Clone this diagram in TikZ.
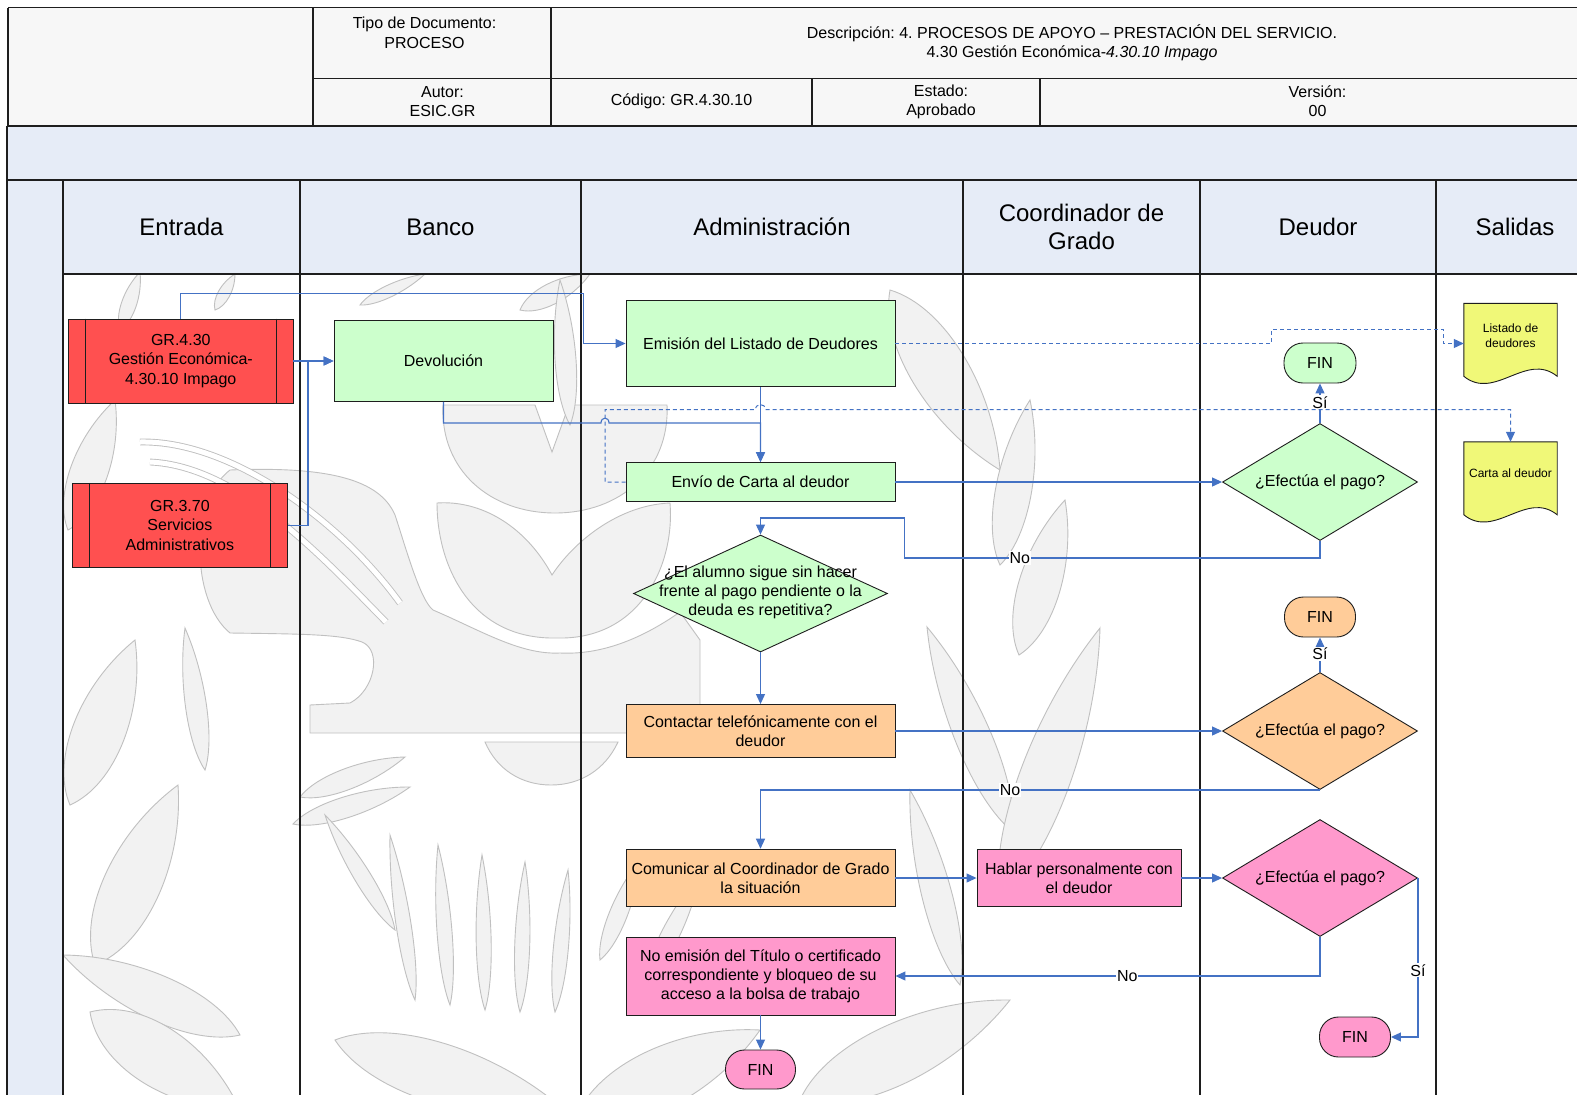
\documentclass[tikz,border=0pt]{standalone}
\usepackage{fontspec}
\setmainfont{Liberation Sans}
\usetikzlibrary{arrows.meta,calc,shapes.geometric}

\definecolor{hdrfill}{RGB}{247,247,247}
\definecolor{lanefill}{RGB}{230,236,247}
\definecolor{redbox}{RGB}{255,80,80}
\definecolor{greenbox}{RGB}{204,255,204}
\definecolor{orangebox}{RGB}{255,204,153}
\definecolor{pinkbox}{RGB}{255,153,204}
\definecolor{docyellow}{RGB}{240,248,120}
\definecolor{flowblue}{RGB}{68,114,196}
\definecolor{wmfill}{RGB}{242,242,242}
\definecolor{wmline}{RGB}{192,192,192}
\definecolor{frame}{RGB}{30,30,30}

% background emblem leaf: base, tip, half-width
\newcommand\wleaf[3]{\filldraw[wm] (#1) .. controls ($(#1)!0.2!(#2)!#3pt!90:(#2)$) and ($(#1)!0.65!(#2)!#3pt!90:(#2)$) .. (#2) .. controls ($(#1)!0.65!(#2)!#3pt!-90:(#2)$) and ($(#1)!0.2!(#2)!#3pt!-90:(#2)$) .. cycle;}

% document symbol with a wavy lower edge, drawn around a named node
\newcommand\wavedoc[1]{\filldraw[draw=frame, line width=0.9pt, fill=docyellow] (#1.north west) -- (#1.north east) -- ($(#1.north east)+(0,73)$) .. controls ($(#1.north east)+(-31,48)$) and ($(#1.north west)+(31,98)$) .. ($(#1.north west)+(0,73)$) -- cycle;}

\begin{document}
\frenchspacing
\begin{tikzpicture}[x=1pt,y=-1pt,
  body/.style={font=\fontsize{16}{19.2}\selectfont},
  hdrtext/.style={body, align=center, inner sep=0pt},
  lanetitle/.style={font=\fontsize{24}{28.8}\selectfont, align=center, inner sep=0pt},
  procbox/.style={draw=frame, line width=0.9pt, body, align=center, inner sep=0pt},
  subproc/.style={procbox, fill=redbox},
  greenproc/.style={procbox, fill=greenbox},
  orangeproc/.style={procbox, fill=orangebox},
  pinkproc/.style={procbox, fill=pinkbox},
  decision/.style={draw=frame, line width=0.9pt, shape=diamond, inner sep=0pt, minimum width=195pt, minimum height=117pt},
  dectext/.style={body, align=center, inner sep=0pt},
  terminal/.style={draw=frame, line width=0.9pt, rounded corners=19pt, body, inner sep=0pt, minimum width=71pt, minimum height=40pt},
  flow/.style={draw=flowblue, line width=1.1pt, -{Triangle[length=10pt,width=9pt]}},
  dataflow/.style={flow, line width=1pt, dash pattern=on 4pt off 3pt},
  lbl/.style={body, fill=white, inner sep=1pt},
  doctext/.style={font=\fontsize{12}{15}\selectfont, align=center, inner sep=0pt},
  docbody/.style={inner sep=0pt, minimum width=93pt},
  wm/.style={fill=wmfill, draw=wmline, line width=0.9pt},
  wmstripe/.style={draw=wmline, line width=0.9pt, double=white, double distance=5pt},
  rule/.style={draw=frame, line width=1.2pt},
  thickrule/.style={draw=frame, line width=1.8pt},
]
\useasboundingbox (0,0) rectangle (1577,1095);
\clip (0,0) rectangle (1577,1095);
\fill[white] (0,0) rectangle (1577,1095);

% ---------- document header table ----------
\fill[hdrfill] (8,7.5) rectangle (1600,126);
\draw[rule] (8,7.5) -- (1600,7.5);
\draw[rule] (8,7.5) -- (8,126);
\draw[rule] (313,78.5) -- (1600,78.5);
\draw[rule] (313,7.5) -- (313,126);
\draw[rule] (551,7.5) -- (551,126);
\draw[rule] (812,78.5) -- (812,126);
\draw[rule] (1040,78.5) -- (1040,126);

\node[hdrtext] (hdrtipo) at (424.5,32.7) {Tipo de Documento:\\PROCESO};
\node[hdrtext] (hdrdesc) at (1072,42.75) {Descripción: 4. PROCESOS DE APOYO – PRESTACIÓN DEL SERVICIO.\\4.30 Gestión Económica-\textit{4.30.10 Impago}};
\node[hdrtext] (hdrautor) at (442.5,101.5) {Autor:\\ESIC.GR};
\node[hdrtext] (hdrcod) at (681.5,101.5) {Código: GR.4.30.10};
\node[hdrtext] (hdrest) at (941,101.5) {Estado:\\Aprobado};
\node[hdrtext] (hdrver) at (1317.5,101.5) {Versión:\\00};

% ---------- title band and lane headers ----------
\fill[lanefill] (7,126) rectangle (1600,180);
\fill[lanefill] (7,180) rectangle (63,1100);
\fill[lanefill] (63,180) rectangle (1600,274);

% ---------- background emblem ----------
\begin{scope}
\clip (63,274) rectangle (1577,1095);
\wleaf{70,805}{135,640}{35}
\wleaf{205,770}{185,628}{14}
\wleaf{95,965}{178,785}{38}
\wleaf{240,1035}{63,955}{30}
\wleaf{90,1012}{240,1110}{40}
\wleaf{68,530}{115,400}{25}
\wleaf{120,330}{140,272}{10}
\wleaf{215,310}{235,274}{8}
\wleaf{520,310}{590,274}{14}
\wleaf{360,305}{425,274}{8}
% head and neck
\filldraw[wm] (230,470) .. controls (330,466) and (380,480) .. (395,515)
  .. controls (405,545) and (420,600) .. (433,610)
  .. controls (480,630) and (520,655) .. (560,653)
  .. controls (600,655) and (640,640) .. (680,612)
  -- (700,640) -- (700,733) -- (310,733) -- (310,705) -- (350,703)
  .. controls (375,690) and (382,650) .. (362,642)
  .. controls (340,634) and (300,634) .. (230,633)
  .. controls (190,600) and (190,500) .. (230,470) -- cycle;
\draw[wmstripe] (140,442) .. controls (230,440) and (340,520) .. (400,603);
\draw[wmstripe] (150,462) .. controls (240,466) and (325,560) .. (386,622);
% upper bowl with notch
\filldraw[wm] (443,405) -- (535,405) -- (552,452) -- (569,405) -- (667,405)
  .. controls (670,470) and (620,513) .. (555,513)
  .. controls (490,513) and (440,470) .. (443,405) -- cycle;
% lower bowl with notch
\filldraw[wm] (437,503) .. controls (480,500) and (525,525) .. (552,575)
  .. controls (575,540) and (620,505) .. (670,503)
  .. controls (675,565) and (640,640) .. (557,638)
  .. controls (470,640) and (437,565) .. (437,503) -- cycle;
% half disc under the neck
\filldraw[wm] (485,742) -- (618,742) .. controls (605,770) and (580,785) .. (551,785)
  .. controls (522,785) and (497,770) .. (485,742) -- cycle;
% feathers
\wleaf{300,797}{405,757}{14}
\wleaf{293,824}{410,787}{14}
\wleaf{415,1000}{390,835}{10}
\wleaf{450,1005}{438,845}{10}
\wleaf{485,1010}{482,855}{10}
\wleaf{520,1012}{525,862}{10}
\wleaf{555,1012}{568,870}{10}
\wleaf{395,930}{325,815}{11}
\wleaf{335,1040}{570,1115}{40}
\wleaf{600,960}{640,860}{12}
\wleaf{645,985}{700,875}{12}
\wleaf{575,1120}{760,1030}{40}
\wleaf{890,290}{1000,470}{38}
\wleaf{570,425}{560,280}{14}
\wleaf{1019,655}{1065,500}{28}
\wleaf{1013,832}{927,627}{24}
\wleaf{1000,900}{1100,628}{34}
\wleaf{960,985}{910,790}{20}
\wleaf{1000,565}{1030,400}{24}
\wleaf{800,1100}{1010,1000}{40}
\end{scope}

% ---------- lane rules ----------
\draw[thickrule] (7,126) -- (1600,126);
\draw[thickrule] (7,180) -- (1600,180);
\draw[rule] (7,126) -- (7,1100);
\draw[rule] (63,180) -- (63,1100);
\foreach \lx in {300,581,963,1200,1436}
  \draw[rule] (\lx,180) -- (\lx,1100);
\draw[rule] (63,274) -- (1600,274);

\node[lanetitle] (hEntrada) at (181.5,227) {Entrada};
\node[lanetitle] (hBanco) at (440.5,227) {Banco};
\node[lanetitle] (hAdmin) at (772,227) {Administración};
\node[lanetitle] (hCoord) at (1081.5,227) {Coordinador de\\Grado};
\node[lanetitle] (hDeudor) at (1318,227) {Deudor};
\node[lanetitle] (hSalidas) at (1515,227) {Salidas};

% ---------- process nodes ----------
\node[subproc, minimum width=224.4pt, minimum height=84pt] (g430) at (180.8,361) {GR.4.30\\Gestión Económica-\\4.30.10 Impago};
\draw[frame, line width=0.9pt] ([xshift=17pt]g430.north west) -- ([xshift=17pt]g430.south west);
\draw[frame, line width=0.9pt] ([xshift=-17pt]g430.north east) -- ([xshift=-17pt]g430.south east);

\node[subproc, minimum width=214.3pt, minimum height=84pt] (g370) at (179.9,525.3) {GR.3.70\\Servicios\\Administrativos};
\draw[frame, line width=0.9pt] ([xshift=17pt]g370.north west) -- ([xshift=17pt]g370.south west);
\draw[frame, line width=0.9pt] ([xshift=-17pt]g370.north east) -- ([xshift=-17pt]g370.south east);

\node[greenproc, minimum width=219pt, minimum height=81pt] (dev) at (443.5,361) {Devolución};
\node[greenproc, minimum width=269pt, minimum height=86.7pt] (emi) at (760.5,343.5) {Emisión del Listado de Deudores};
\node[greenproc, minimum width=269pt, minimum height=39pt] (env) at (760.5,482) {Envío de Carta al deudor};

\node[decision, fill=greenbox, minimum width=254pt] (d0) at (760.5,593.5) {};
\node[dectext] (d0t) at (760.5,592.5) {¿El alumno sigue sin hacer\\frente al pago pendiente o la\\deuda es repetitiva?};

\node[orangeproc, minimum width=269pt, minimum height=53pt] (con) at (760.5,731) {Contactar telefónicamente con el\\deudor};
\node[orangeproc, minimum width=269pt, minimum height=57.7pt] (com) at (760.5,878) {Comunicar al Coordinador de Grado\\la situación};
\node[pinkproc, minimum width=269pt, minimum height=78pt] (noe) at (760.5,976) {No emisión del Título o certificado\\correspondiente y bloqueo de su\\acceso a la bolsa de trabajo};
\node[terminal, fill=pinkbox, minimum width=70pt, minimum height=39pt] (fin4) at (760.5,1069.5) {FIN};

\node[pinkproc, minimum width=204pt, minimum height=57.7pt] (hab) at (1079,878) {Hablar personalmente con\\el deudor};

\node[decision, fill=greenbox] (d1) at (1320,482) {};
\node[dectext] (d1t) at (1320,482) {¿Efectúa el pago?};
\node[terminal, fill=greenbox, minimum width=72pt] (fin1) at (1320,363) {FIN};

\node[decision, fill=orangebox] (d2) at (1320,731) {};
\node[dectext] (d2t) at (1320,731) {¿Efectúa el pago?};
\node[terminal, fill=orangebox] (fin2) at (1320,617) {FIN};

\node[decision, fill=pinkbox] (d3) at (1320,878) {};
\node[dectext] (d3t) at (1320,878) {¿Efectúa el pago?};
\node[terminal, fill=pinkbox] (fin3) at (1355,1037) {FIN};

% ---------- output documents ----------
\node[docbody, minimum height=80pt] (lst) at (1510.5,343.5) {};
\wavedoc{lst}
\node[doctext] (lsttxt) at (1510.5,335.5) {Listado de\\deudores};

\node[docbody, minimum height=76pt] (crt) at (1510.5,480) {};
\wavedoc{crt}
\node[doctext] (crttxt) at (1510.5,473) {Carta al deudor};

% ---------- connectors ----------
\draw[flow] (g430.north) |- (583.5,293.5) |- (emi.west);
\draw[flow] (g430.east) -- (dev.west);
\draw[flow] (g370.east) -| (308,440) |- (dev.west);
\draw[flow] (dev.south) |- (601,423) .. controls (601,416.5) and (609,416.5) .. (609,423) -- (760.5,423) -- (env.north);
\draw[flow] (emi.south) -- (env.north);
\draw[dataflow] (env.west) -| (605,409.5) -- (755.5,409.5) .. controls (755.5,403) and (765.5,403) .. (765.5,409.5) -- (1510.5,409.5) -- (crt.north);
\draw[dataflow] (emi.east) -- (1271.5,343.5) |- (1443.5,329.5) |- (lst.west);
\draw[flow] (env.east) -- (d1.west);
\draw[flow] (d1.north) -- node[lbl, pos=0.52]{Sí} (fin1.south);
\draw[flow] (d1.south) -- (1320,558) -- node[lbl, pos=0.722]{No} (904.3,558) |- (760.5,518) -- (d0.north);
\draw[flow] (d0.south) -- (con.north);
\draw[flow] (con.east) -- (d2.west);
\draw[flow] (d2.north) -- node[lbl, pos=0.52]{Sí} (fin2.south);
\draw[flow] (d2.south) -| node[lbl, pos=0.277]{No} (com.north);
\draw[flow] (com.east) -- (hab.west);
\draw[flow] (hab.east) -- (d3.west);
\draw[flow] (d3.east) |- node[lbl, pos=0.29]{Sí} (fin3.east);
\draw[flow] (d3.south) |- node[lbl, pos=0.727]{No} (noe.east);
\draw[flow] (noe.south) -- (fin4.north);
\end{tikzpicture}
\end{document}
